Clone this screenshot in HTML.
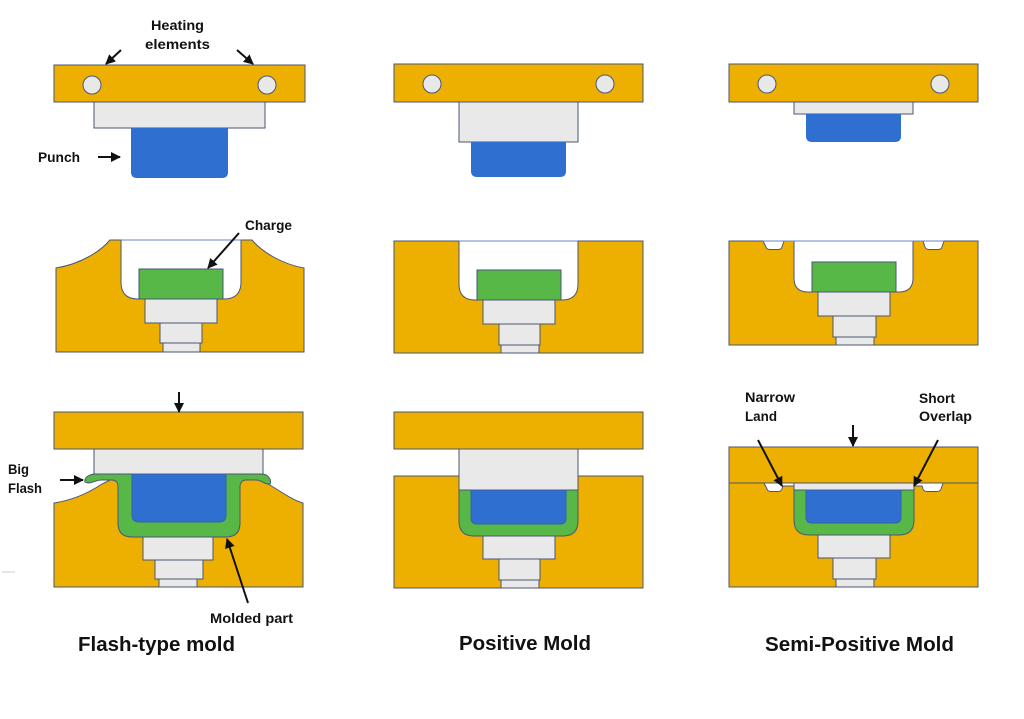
<!DOCTYPE html>
<html><head><meta charset="utf-8"><style>
html,body{margin:0;padding:0;background:#fff;}
svg{display:block;}
text{font-family:"Liberation Sans",Arial,sans-serif;font-weight:bold;fill:#111;}
</style></head><body>
<svg width="1024" height="719" viewBox="0 0 1024 719" xmlns="http://www.w3.org/2000/svg">
<defs>
<marker id="ah" viewBox="0 0 10 10" refX="9" refY="5" markerWidth="5" markerHeight="5" orient="auto-start-reverse">
<path d="M0,0 L10,5 L0,10 Z" fill="#111"/>
</marker>
</defs>
<g stroke="#4a5674" stroke-width="1">
<!-- ========== PANEL 1 ========== -->
<rect x="54" y="65" width="251" height="37" fill="#EEB000"/>
<circle cx="92" cy="85" r="9" fill="#E8E8E8"/>
<circle cx="267" cy="85" r="9" fill="#E8E8E8"/>
<rect x="94" y="102" width="171" height="26" fill="#E9E9E9"/>
<path d="M131,128 H228 V172 Q228,178 222,178 H137 Q131,178 131,172 Z" fill="#2E6FD0" stroke="none"/>

<path d="M56,352 V268 C80,264 100,252 110,240 H121 V282 Q121,299 138,299 H224 Q241,299 241,282 V240 H252 C262,252 282,264 304,268 V352 Z" fill="#EEB000"/>
<line x1="121" y1="240" x2="241" y2="240" stroke="#6a86c4"/>
<rect x="139" y="269" width="84" height="30" fill="#57B847"/>
<rect x="145" y="299" width="72" height="24" fill="#E9E9E9"/>
<rect x="160" y="323" width="42" height="20" fill="#E9E9E9"/>
<rect x="163" y="343" width="37" height="9" fill="#E9E9E9"/>

<rect x="54" y="412" width="249" height="37" fill="#EEB000"/>
<path d="M54,587 V503 C74,500 90,492 102,484 L112,479 H258 L268,484 C282,492 292,500 303,503 V587 Z" fill="#EEB000"/>
<rect x="94" y="449" width="169" height="25" fill="#E9E9E9"/>
<path d="M85,482 C84,477 90,474 96,474 H262 C268,474 272,480 270,484 C265,485 262,480 256,480 H246 C242,480 240,483 240,487 V523 Q240,537 226,537 H132 Q118,537 118,523 V487 C118,483 116,480 112,480 H102 C94,480 90,485 85,482 Z" fill="#57B847"/>
<path d="M132,474 H226 V515 Q226,522 219,522 H139 Q132,522 132,515 Z" fill="#2E6FD0" stroke="#3a5fa8"/>
<rect x="143" y="537" width="70" height="23" fill="#E9E9E9"/>
<rect x="155" y="560" width="48" height="19" fill="#E9E9E9"/>
<rect x="159" y="579" width="38" height="8" fill="#E9E9E9"/>

<!-- ========== PANEL 2 ========== -->
<rect x="394" y="64" width="249" height="38" fill="#EEB000"/>
<circle cx="432" cy="84" r="9" fill="#E8E8E8"/>
<circle cx="605" cy="84" r="9" fill="#E8E8E8"/>
<rect x="459" y="102" width="119" height="40" fill="#E9E9E9"/>
<path d="M471,142 H566 V171 Q566,177 560,177 H477 Q471,177 471,171 Z" fill="#2E6FD0" stroke="none"/>

<path d="M394,353 V241 H459 V284 Q459,300 475,300 H562 Q578,300 578,284 V241 H643 V353 Z" fill="#EEB000"/>
<line x1="459" y1="241" x2="578" y2="241" stroke="#6a86c4"/>
<rect x="477" y="270" width="84" height="30" fill="#57B847"/>
<rect x="483" y="300" width="72" height="24" fill="#E9E9E9"/>
<rect x="499" y="324" width="41" height="21" fill="#E9E9E9"/>
<rect x="501" y="345" width="38" height="8" fill="#E9E9E9"/>

<rect x="394" y="412" width="249" height="37" fill="#EEB000"/>
<rect x="394" y="476" width="249" height="112" fill="#EEB000"/>
<rect x="459" y="449" width="119" height="41" fill="#E9E9E9"/>
<path d="M459,490 H578 V521 Q578,536 563,536 H474 Q459,536 459,521 Z" fill="#57B847"/>
<path d="M471,490 H566 V518 Q566,524 560,524 H477 Q471,524 471,518 Z" fill="#2E6FD0" stroke="#3a5fa8"/>
<rect x="483" y="536" width="72" height="23" fill="#E9E9E9"/>
<rect x="499" y="559" width="41" height="21" fill="#E9E9E9"/>
<rect x="501" y="580" width="38" height="8" fill="#E9E9E9"/>

<!-- ========== PANEL 3 ========== -->
<rect x="729" y="64" width="249" height="38" fill="#EEB000"/>
<circle cx="767" cy="84" r="9" fill="#E8E8E8"/>
<circle cx="940" cy="84" r="9" fill="#E8E8E8"/>
<rect x="794" y="102" width="119" height="12" fill="#E9E9E9"/>
<path d="M806,114 H901 V136 Q901,142 895,142 H812 Q806,142 806,136 Z" fill="#2E6FD0" stroke="none"/>

<path d="M729,345 V241 H763 L766,247 Q767,249.5 770,249.5 H778 Q781,249.5 782,247 L784,241 H794 V278 Q794,292 808,292 H899 Q913,292 913,278 V241 H923 L925,247 Q926,249.5 929,249.5 H938 Q941,249.5 942,247 L944,241 H978 V345 Z" fill="#EEB000"/>
<line x1="763" y1="241" x2="944" y2="241" stroke="#6a86c4"/>
<rect x="812" y="262" width="84" height="30" fill="#57B847"/>
<rect x="818" y="292" width="72" height="24" fill="#E9E9E9"/>
<rect x="833" y="316" width="43" height="21" fill="#E9E9E9"/>
<rect x="836" y="337" width="38" height="8" fill="#E9E9E9"/>

<rect x="729" y="447" width="249" height="36" fill="#EEB000"/>
<rect x="729" y="483" width="249" height="104" fill="#EEB000"/>
<path d="M764,483 L767,489 Q768,491.5 771,491.5 H778 Q781,491.5 782,489 L783,486 H794 V483 Z" fill="#fff"/>
<path d="M914,483 V486 H922 L923,489 Q924,491.5 927,491.5 H937 Q940,491.5 941,489 L943,483 Z" fill="#fff"/>
<rect x="794" y="483" width="120" height="7" fill="#E9E9E9"/>
<path d="M794,490 H914 V520 Q914,535 899,535 H809 Q794,535 794,520 Z" fill="#57B847"/>
<path d="M806,490 H901 V517 Q901,523 895,523 H812 Q806,523 806,517 Z" fill="#2E6FD0" stroke="#3a5fa8"/>
<rect x="818" y="535" width="72" height="23" fill="#E9E9E9"/>
<rect x="833" y="558" width="43" height="21" fill="#E9E9E9"/>
<rect x="836" y="579" width="38" height="8" fill="#E9E9E9"/>
</g>

<!-- faint mark -->
<line x1="2" y1="572" x2="15" y2="572" stroke="#ccc" stroke-width="1"/>

<!-- arrows -->
<g stroke="#111" stroke-width="2" fill="none">
<line x1="121" y1="50" x2="106" y2="64" marker-end="url(#ah)"/>
<line x1="237" y1="50" x2="253" y2="64" marker-end="url(#ah)"/>
<line x1="98" y1="157" x2="120" y2="157" marker-end="url(#ah)"/>
<line x1="239" y1="233" x2="208" y2="268" marker-end="url(#ah)"/>
<line x1="179" y1="392" x2="179" y2="412" marker-end="url(#ah)"/>
<line x1="60" y1="480" x2="83" y2="480" marker-end="url(#ah)"/>
<line x1="248" y1="603" x2="227" y2="539" marker-end="url(#ah)"/>
<line x1="853" y1="425" x2="853" y2="446" marker-end="url(#ah)"/>
<line x1="758" y1="440" x2="782" y2="486" marker-end="url(#ah)"/>
<line x1="938" y1="440" x2="914" y2="486" marker-end="url(#ah)"/>
</g>

<!-- labels -->
<g font-size="13.5">
<text x="151" y="30" textLength="53" lengthAdjust="spacingAndGlyphs">Heating</text>
<text x="145" y="49" textLength="65" lengthAdjust="spacingAndGlyphs">elements</text>
<text x="38" y="162" textLength="42" lengthAdjust="spacingAndGlyphs">Punch</text>
<text x="245" y="230" textLength="47" lengthAdjust="spacingAndGlyphs">Charge</text>
<text x="8" y="474" textLength="21" lengthAdjust="spacingAndGlyphs">Big</text>
<text x="8" y="493" textLength="34" lengthAdjust="spacingAndGlyphs">Flash</text>
<text x="210" y="623" textLength="83" lengthAdjust="spacingAndGlyphs">Molded part</text>
<text x="745" y="402" textLength="50" lengthAdjust="spacingAndGlyphs">Narrow</text>
<text x="745" y="421" textLength="32" lengthAdjust="spacingAndGlyphs">Land</text>
<text x="919" y="403" textLength="36" lengthAdjust="spacingAndGlyphs">Short</text>
<text x="919" y="421" textLength="53" lengthAdjust="spacingAndGlyphs">Overlap</text>
</g>
<g font-size="20">
<text x="78" y="651" textLength="157" lengthAdjust="spacingAndGlyphs">Flash-type mold</text>
<text x="459" y="650" textLength="132" lengthAdjust="spacingAndGlyphs">Positive Mold</text>
<text x="765" y="651" textLength="189" lengthAdjust="spacingAndGlyphs">Semi-Positive Mold</text>
</g>
</svg>
</body></html>
